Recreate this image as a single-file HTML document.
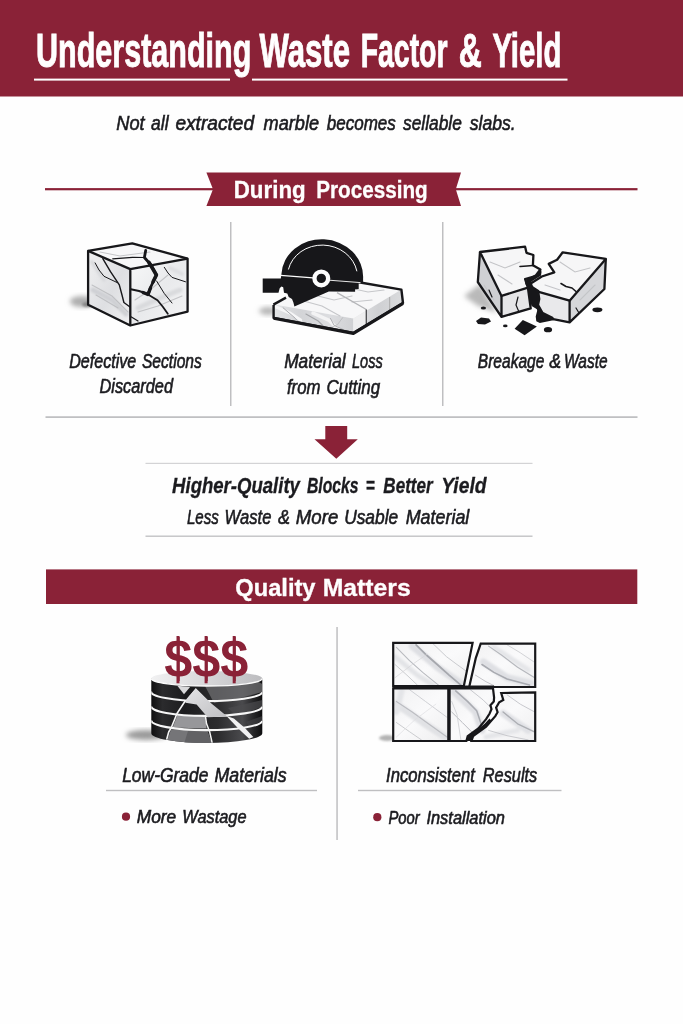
<!DOCTYPE html>
<html>
<head>
<meta charset="utf-8">
<title>Understanding Waste Factor &amp; Yield</title>
<style>
html,body{margin:0;padding:0;background:#fefefe;}
body{width:683px;height:1024px;overflow:hidden;position:relative;font-family:"Liberation Sans",sans-serif;}
svg{position:absolute;left:0;top:0;display:block;}
text{font-family:"Liberation Sans",sans-serif;}
.b{font-weight:bold;}
.i{font-style:italic;}
.k{fill:#1b1b1f;}
.w{fill:#ffffff;}
</style>
</head>
<body>
<svg width="683" height="1024" viewBox="0 0 683 1024">
<defs>
  <linearGradient id="mb1" x1="0" y1="0" x2="1" y2="1">
    <stop offset="0" stop-color="#f8f8f9"/>
    <stop offset="0.5" stop-color="#e9eaec"/>
    <stop offset="1" stop-color="#f4f4f5"/>
  </linearGradient>
  <linearGradient id="mb2" x1="0" y1="0" x2="1" y2="1">
    <stop offset="0" stop-color="#f1f1f2"/>
    <stop offset="0.55" stop-color="#dedfe2"/>
    <stop offset="1" stop-color="#f0f0f1"/>
  </linearGradient>
  <filter id="bl2" x="-30%" y="-30%" width="160%" height="160%"><feGaussianBlur stdDeviation="2.5"/></filter>
  <filter id="bl05" x="-30%" y="-30%" width="160%" height="160%"><feGaussianBlur stdDeviation="0.5"/></filter>
  <filter id="bl1" x="-30%" y="-30%" width="160%" height="160%"><feGaussianBlur stdDeviation="1.2"/></filter>
</defs>

<!-- background -->
<rect x="0" y="0" width="683" height="1024" fill="#fefefe"/>

<!-- HEADER -->
<g id="header">
  <rect x="0" y="0" width="683" height="96.5" fill="#8a2237"/>
  <rect x="34" y="78.6" width="196" height="2" fill="#fff"/>
  <rect x="252" y="78.6" width="315.5" height="2" fill="#fff"/>
</g>

<!-- SUBTITLE -->

<!-- RIBBON -->
<g id="ribbon">
  <rect x="45" y="188.1" width="170" height="2.2" fill="#8a2237"/>
  <rect x="450" y="188.1" width="187.5" height="2.2" fill="#8a2237"/>
  <path d="M206.4 172.5 H461 L455.8 189.2 L461 205.9 H206.4 L213 189.2 Z" fill="#8a2237"/>
</g>

<!-- SECTION 1 grid lines -->
<g id="grid1" fill="#bfbfc1">
  <rect x="230" y="222" width="1.5" height="184"/>
  <rect x="442" y="222" width="1.5" height="184"/>
  <rect x="45.5" y="416.3" width="592" height="1.6" fill="#b9babc"/>
  <rect x="145.5" y="462.8" width="387" height="1.1" fill="#cfcfd1"/>
  <rect x="145.5" y="535.5" width="387" height="1.4" fill="#c2c3c5"/>
</g>

<!-- ICONS section 1 placeholder -->
<g id="icon-cube">
  <ellipse cx="82" cy="301.5" rx="12" ry="5.5" fill="#adadad" filter="url(#bl2)"/>
  <ellipse cx="88" cy="304.5" rx="6" ry="2.5" fill="#858585" filter="url(#bl1)"/>
  <!-- faces -->
  <path d="M88.1 250.9 L132.3 243.4 L187.6 258.6 L130.3 269.1 Z" fill="#f7f7f8"/>
  <path d="M88.1 250.9 L130.3 269.1 L130.3 325.5 L88.1 304.7 Z" fill="url(#mb2)"/>
  <path d="M130.3 269.1 L187.6 258.6 L187.6 311.6 L130.3 325.5 Z" fill="url(#mb1)"/>
  <g fill="none" stroke-linecap="round" filter="url(#bl1)">
    <path d="M93 290 L112 300 L126 314" stroke="#cfd0d4" stroke-width="5"/>
    <path d="M92 262 L104 280" stroke="#d9dadd" stroke-width="4"/>
    <path d="M138 308 L160 298 L180 290" stroke="#d9dadd" stroke-width="5"/>
    <path d="M170 268 L182 274" stroke="#dddee1" stroke-width="4"/>
  </g>
  <!-- veins -->
  <g fill="none" stroke="#b9babd" stroke-width="1.1" stroke-linecap="round" opacity=".8" filter="url(#bl05)">
    <path d="M92 285 L112 296 L128 312"/>
    <path d="M96 295 L118 308"/>
    <path d="M135 300 L150 290 L168 275"/>
    <path d="M138 312 L158 306 L182 296"/>
    <path d="M100 252 L120 256 L150 252"/>
  </g>
  <!-- cracks -->
  <g fill="none" stroke="#17171a" stroke-linecap="round" stroke-linejoin="round">
    <path d="M145.7 250.5 L144.4 257.5 L151 265 L156.4 275 L150.5 287.5 L148 294.5" stroke-width="2.8"/>
    <path d="M149 262.5 L153.5 270 L156.4 275 L153 282" stroke-width="3.6"/>
    <path d="M150.5 288 L148 294.5 L143 292.5" stroke-width="3.4"/>
    <path d="M148 294 L139 291 L130.8 289.3" stroke-width="2"/>
    <path d="M148 294.5 L157.5 300.3 L163 307 L167.8 313.8" stroke-width="1.8"/>
    <path d="M156.6 281 L164.3 293.5 L172 303" stroke-width="1"/>
    <path d="M102.8 258.6 L110.5 271.7 L119.3 284.9 L122 295 L123.9 302.5 L130 307" stroke-width="1.4"/>
    <path d="M95.1 262.9 L99 270 L104 276.3 L117 282.5" stroke-width="1"/>
    <path d="M164.3 267.3 L168 273 L172 277.4 L185.5 281.8" stroke-width="1"/>
    <path d="M112.7 258.8 L132.5 257.3 L144.5 257.5" stroke-width="1.2"/>
    <path d="M131 316.8 L138 321" stroke-width="1.2"/>
  </g>
  <!-- outline -->
  <g fill="none" stroke="#17171a" stroke-width="2.3" stroke-linejoin="round">
    <path d="M88.1 250.9 L132.3 243.4 L187.6 258.6 L187.6 311.6 L130.3 325.5 L88.1 304.7 Z"/>
    <path d="M88.1 250.9 L130.3 269.1 L187.6 258.6 M130.3 269.1 V325.5"/>
  </g>
</g>
<g id="icon-saw">
  <defs>
    <linearGradient id="sf" x1="0" y1="0" x2="1" y2="0">
      <stop offset="0" stop-color="#e3e4e6"/><stop offset=".35" stop-color="#d3d4d7"/><stop offset=".7" stop-color="#dcdde0"/><stop offset="1" stop-color="#cfd0d3"/>
    </linearGradient>
    <linearGradient id="sr" x1="0" y1="0" x2="1" y2="0">
      <stop offset="0" stop-color="#e4e4e6"/><stop offset=".5" stop-color="#cfd0d3"/><stop offset="1" stop-color="#dadbdd"/>
    </linearGradient>
    <clipPath id="sfc"><path d="M273.4 304.3 L353.4 318.6 L353.4 333 L272.8 318.2 Z"/></clipPath>
  </defs>
  <!-- shadow -->
  <ellipse cx="268" cy="311" rx="9" ry="4" fill="#b5b5b5" filter="url(#bl2)"/>
  <!-- slab -->
  <path d="M273.4 304.3 L321.6 275.8 L401.4 289.6 L353.4 318.6 Z" fill="#f7f7f8"/>
  <path d="M273.4 304.3 L353.4 318.6 L353.4 333 L272.8 318.2 Z" fill="url(#sf)"/>
  <g clip-path="url(#sfc)" fill="none" stroke-linecap="round" filter="url(#bl05)">
    <path d="M276.1 307.0 L290.1 313.1 L300.7 320.1" stroke="#f6f6f7" stroke-width="3"/>
    <path d="M313.0 313.1 L328.8 320.1 L337.6 328.9" stroke="#f3f3f4" stroke-width="3.5"/>
    <path d="M283.1 307.8 L295.4 318.4 L298.9 322.8" stroke="#a9aaae" stroke-width="1"/>
    <path d="M305.9 314.0 L318.2 321.0 L325.3 328.0" stroke="#a4a5a9" stroke-width="1.1"/>
    <path d="M330.5 318.4 L334.1 325.4 L346.4 331.0" stroke="#b0b1b5" stroke-width="1"/>
    <path d="M342.8 317.5 L337.6 324.5 L332.3 327.2" stroke="#b6b7ba" stroke-width="0.8"/>
  </g>
  <path d="M353.4 318.6 L401.4 289.6 L403 303 L353.4 333 Z" fill="url(#sr)"/>
  <path d="M353.4 318.6 L366.3 310.8 V325 L353.4 333 Z" fill="#eeeeef"/>
  <!-- veins -->
  <g fill="none" stroke="#c6c7ca" stroke-width="1.2" stroke-linecap="round" filter="url(#bl05)">
    <path d="M300 300 L322 306 L340 316"/>
    <path d="M318 296 L334 300 L352 296"/>
    <path d="M345 287 L368 292 L384 290"/>
    <path d="M352 302 L372 300"/>
  </g>
  <!-- kerf -->
  <path d="M337 292.6 L366.3 309.5" fill="none" stroke="#b3b4b7" stroke-width="1.3"/>
  <path d="M366.3 309.5 V324.8" fill="none" stroke="#4a4a4d" stroke-width="1.3"/>
  <path d="M389.7 297 V310.5" fill="none" stroke="#aaa" stroke-width="1"/>
  <!-- outline -->
  <path d="M273.6 305.1 V317.9 L353.4 333 L403 303 L401.4 289.6 L356 281.8" fill="none" stroke="#17171a" stroke-width="2.4" stroke-linejoin="round"/>
  <path d="M273.4 304.6 L286 297.6" fill="none" stroke="#17171a" stroke-width="2.4"/>
  <path d="M273.6 318.2 L353.4 333.4 L403 303.4" fill="none" stroke="#17171a" stroke-width="3.2" stroke-linejoin="round"/>
  <!-- saw -->
  <path d="M262.7 278.4 L280.8 278.4 L281.4 274.3 A40.85 37 3 0 1 363.1 278.3 L363.1 282 L358.7 282.4 L358.7 288.9 L355.1 289.2 L355.1 291.8 L328.8 291.5 L294.4 306.4 L293.4 302.4 L292 298.9 L288.7 297.1 L287.3 293.6 L284 292.7 L283.2 287.2 L281.4 286.6 L279.7 288.2 L278.5 292.7 L262.7 292.7 Z" fill="#17171a"/>
  <path d="M280.6 275.4 L313 277.9" stroke="#fdfdfd" stroke-width="1.1" fill="none"/>
  <path d="M329 280.2 L360.5 282.6" stroke="#fdfdfd" stroke-width="0.9" fill="none"/>
  <path d="M288.4 269.5 A35 31.8 3 0 1 356.9 271.3" stroke="#fdfdfd" stroke-width="1" fill="none"/>
  <circle cx="321.3" cy="278.4" r="6.85" fill="none" stroke="#fdfdfd" stroke-width="4.3"/>
</g>
<g id="icon-broken">
  <path d="M464 296 L480 284 L497 313 L478 306 Z" fill="#b9b9b9" filter="url(#bl2)"/>
  <!-- crack void -->
  <!-- left piece -->
  <path d="M480 252 L525.1 246.7 L526.5 252.8 L533.4 255 L532.9 265.3 L540.4 269.5 L539 275.1 L525.1 279.2 L527.9 287.6 L501.5 295.9 Z" fill="#f6f6f7"/>
  <path d="M480 252 L477.8 282 L501.5 316.8 L501.5 295.9 Z" fill="#cfd0d3"/>
  <path d="M501.5 295.9 L501.5 316.8 L530.7 308.4 L527.9 287.6 Z" fill="#e6e6e8"/>
  <!-- right piece -->
  <path d="M562.7 252.3 L605.8 258.9 L569.6 300.7 L533.4 290.4 L530.7 283.4 L541.8 276.5 L554.3 272.3 L548.7 263.9 L557.1 259.8 Z" fill="#f6f6f7"/>
  <path d="M533.4 290.4 L569.6 300.7 L569.6 322.4 L541.8 316.8 L536 305 Z" fill="#e9e9eb"/>
  <path d="M569.6 300.7 L605.8 258.9 L604.4 289 L569.6 322.4 Z" fill="#d6d7da"/>
  <!-- veins -->
  <g fill="none" stroke="#c4c5c8" stroke-width="1.1" stroke-linecap="round" filter="url(#bl05)">
    <path d="M490 262 L505 268 L520 262"/>
    <path d="M498 275 L512 284"/>
    <path d="M560 262 L575 272 L590 268"/>
    <path d="M545 285 L560 290"/>
    <path d="M484 285 L494 300"/>
    <path d="M580 300 L595 285"/>
  </g>
  <!-- small cracks -->
  <g fill="none" stroke="#17171a" stroke-linecap="round" stroke-linejoin="round" stroke-width="1.2">
    <path d="M520 266.5 L527 266 L533 265.5" stroke-width="1.6"/>
    <path d="M561 283.5 L566 286.5 L572 288 L576 291.5" stroke-width="1.6"/>
    <path d="M518 297 L516 305 L519 312"/>
    <path d="M489 290 L492 297"/>
    <path d="M576 308 L579 313"/>
  </g>
  <!-- outlines -->
  <g fill="none" stroke="#17171a" stroke-width="2.3" stroke-linejoin="round">
    <path d="M480 252 L525.1 246.7 L526.5 252.8 L533.4 255 L532.9 265.3 L540.4 269.5 L539 275.1 L525.1 279.2 L527.9 287.6 L501.5 295.9 Z"/>
    <path d="M480 252 L477.8 282 L501.5 316.8 L530.7 308.4 L527.9 287.6 M501.5 295.9 V316.8"/>
    <path d="M562.7 252.3 L605.8 258.9 L569.6 300.7 L533.4 290.4 L530.7 283.4 L541.8 276.5 L554.3 272.3 L548.7 263.9 L557.1 259.8 Z"/>
    <path d="M605.8 258.9 L604.4 289 L569.6 322.4 L541.8 316.8 L536 305 L533.4 290.4 M569.6 300.7 V322.4"/>
  </g>
  <path d="M538.7 269.7 L541.6 271.4 L541 275.5 L531.6 281.4 L531 284.9 L539.2 290.2 L540.4 299 L539.2 304.8 L543.3 311.9 L553.3 317.1 L554.5 320.1 L539.8 323 L536.3 321.2 L535.7 316.5 L537.5 309.5 L531.6 306 L529.3 299 L528.1 288.4 L525.2 283.7 L526.4 279.6 L535.1 274.4 Z" fill="#17171a"/>
  <!-- debris -->
  <g fill="#17171a">
    <path d="M476 321 L481 317.5 L489 318.5 L491 321.5 L485 324.5 L478 324 Z"/>
    <path d="M514.6 328.8 L522.8 320 L536.9 326.5 L524.6 335.3 Z"/>
    <ellipse cx="548" cy="329.7" rx="4.1" ry="2.6"/>
    <ellipse cx="597.4" cy="309.8" rx="5" ry="2.4"/>
    <ellipse cx="483.4" cy="307.9" rx="2.6" ry="1.5"/>
    <ellipse cx="505.3" cy="325.9" rx="2.3" ry="1.4"/>
  </g>
</g>

<!-- labels section 1 -->


<!-- ARROW -->
<path d="M325.3 426 H347.2 V439.3 H357.8 L336.3 458.7 L314.5 439.3 H325.3 Z" fill="#8a2237"/>

<!-- middle text -->

<!-- QUALITY BAR -->
<g id="qbar">
  <rect x="46" y="569.4" width="591.3" height="34.6" fill="#8a2237"/>
</g>

<!-- SECTION 2 lines -->
<g id="grid2" fill="#bfbfc1">
  <rect x="336.3" y="627" width="1.5" height="213"/>
  <rect x="106" y="789.8" width="211" height="1.4"/>
  <rect x="358" y="789.8" width="203.5" height="1.4"/>
</g>

<!-- ICONS section 2 placeholder -->
<g id="icon-coins">
  <defs>
    <clipPath id="cyl"><path d="M151.3 678.5 V733.2 A55.5 9.7 0 0 0 262.3 733.2 V678.5 Z"/></clipPath>
    <linearGradient id="cg" x1="0" y1="0" x2="1" y2="0">
      <stop offset="0" stop-color="#0e0e0f"/>
      <stop offset="0.1" stop-color="#2b2b2d"/>
      <stop offset="0.3" stop-color="#1d1d1f"/>
      <stop offset="0.6" stop-color="#2c2c2e"/>
      <stop offset="0.82" stop-color="#4a4a4d"/>
      <stop offset="0.93" stop-color="#232325"/>
      <stop offset="1" stop-color="#0d0d0e"/>
    </linearGradient>
    <linearGradient id="tg" x1="0" y1="0" x2="1" y2="0">
      <stop offset="0" stop-color="#f1f1f2"/>
      <stop offset="0.45" stop-color="#dadadc"/>
      <stop offset="1" stop-color="#bcbcbf"/>
    </linearGradient>
    <linearGradient id="fr" x1="0" y1="0" x2="1" y2="1">
      <stop offset="0" stop-color="#e4e4e6"/>
      <stop offset="1" stop-color="#bfbfc2"/>
    </linearGradient>
  </defs>
  <!-- shadow -->
  <ellipse cx="146" cy="735" rx="20" ry="5" fill="#9a9a9a" filter="url(#bl2)"/>
  <!-- body -->
  <path d="M151.3 678.5 V733.2 A55.5 9.7 0 0 0 262.3 733.2 V678.5 Z" fill="url(#cg)"/>
  <g clip-path="url(#cyl)">
    <!-- highlight regions right of crack -->
    <path d="M205 686 L255 680 L262.3 684 V692 L240 698 L214 703 Z" fill="#6a6a6d" opacity=".8"/>
    <path d="M228 708 L262.3 700 V707 L236 716 Z" fill="#4b4b4e" opacity=".7"/>
    <path d="M246 722 L262.3 716 V721 L250 727 Z" fill="#454548" opacity=".6"/>
    <!-- left fractured layers -->
    <path d="M177.5 715 L205.4 716.4 L206.6 728.5 L172.5 727.5 Z" fill="#97979a"/>
    <path d="M171 729.5 L207 730 L212 744 L166 744 Z" fill="#757578"/>
    <path d="M188 731 L207 730.5 L212 744 L184 744 Z" fill="#616164"/>
    <!-- separators -->
    <g fill="none" stroke="#f6f6f6" stroke-width="2.1">
      <path d="M151.3 691.4 A55.5 9.2 0 0 0 262.3 692.4"/>
      <path d="M151.3 706.2 A55.5 9.4 0 0 0 262.3 706.8"/>
      <path d="M151.3 720.3 A55.5 9.6 0 0 0 262.3 720.8"/>
    </g>
    <!-- black over separator 1 between left crack and roof is not needed -->
    <!-- roof + wide band -->
    <path d="M195.7 688.1 L211.1 703.2 L227.3 716.4 L207.6 717.2 L196.6 704.4 L185.5 702.8 L185.5 699.6 Z" fill="url(#fr)"/>
    <path d="M226.5 716 L233.9 718.4 L244.9 728 L253.3 736.9 L249.2 738.8 L238.3 728.6 Z" fill="#f1f1f2"/>
    <!-- thin cracks -->
    <g fill="none" stroke="#f4f4f4" stroke-linecap="round" stroke-linejoin="round">
      <path d="M185.5 700.5 L177 713.5 L174.6 719.5 L171.4 727.3 L168.7 732 L166.8 739" stroke-width="1.6"/>
      <path d="M205.4 715.9 L206.5 723.5 L209.8 732.3 L212 742.2" stroke-width="1.5"/>
    </g>
  </g>
  <!-- top face -->
  <ellipse cx="206.8" cy="678.5" rx="55.5" ry="7.6" fill="url(#tg)"/>
  <path d="M151.3 678.5 A55.5 7.6 0 0 0 262.3 678.5" fill="none" stroke="#fbfbfb" stroke-width="1.5"/>
  <path d="M190.1 687.1 L195.7 687.7 L186.0 699.4 L183.4 698.8 L184.3 694.5 Z" fill="#1a1a1c"/>
  <path d="M177.3 685.8 L184.0 694.3 L190.1 687.1 Z" fill="#d9d9db"/>
  <!-- dollars -->
  <text class="b" x="164.3" y="676.6" font-size="54.5" textLength="84" lengthAdjust="spacingAndGlyphs" fill="#8a2237">$$$</text>
  <g fill="#8a2237"><rect x="176.5" y="636" width="3" height="47.3"/><rect x="204.6" y="636" width="3" height="47.3"/><rect x="232.7" y="636" width="3" height="47.3"/></g>
</g>
<g id="icon-tiles">
  <defs>
    <clipPath id="tilesclip"><path d="M393.2 642.9 L472.6 642.9 L463.8 686.2 L393.2 686.2 Z M480.7 643.6 L535.2 643.6 L535.2 687 L469.2 687 L475.7 658.4 Z M393.2 688.3 H448.3 V741 H393.2 Z M449.6 688.3 L493 688.3 L494.1 697.6 L493.8 701.5 L490.4 705.3 L491.5 709.2 L489.5 713.8 L486.1 719.2 L478.4 728.4 L467.7 736.1 L466.4 741 L449.6 741 Z M501.2 693 L535.2 692.3 L535.2 741 L471.5 741 L473.1 736.1 L486.1 726.8 L495.3 716.1 L497.6 712.2 L496.1 707.6 L499.2 702.3 L503.3 699.9 Z"/></clipPath>
    <linearGradient id="tl1" x1="0" y1="0" x2="1" y2="1">
      <stop offset="0" stop-color="#f1f1f2"/><stop offset=".5" stop-color="#fafafb"/><stop offset="1" stop-color="#eeeeef"/>
    </linearGradient>
  </defs>
  <ellipse cx="387" cy="738" rx="8" ry="3" fill="#b4b4b4" filter="url(#bl1)"/>
  <g fill="url(#tl1)">
    <path d="M393.2 642.9 L472.6 642.9 L463.8 686.2 L393.2 686.2 Z"/>
    <path d="M480.7 643.6 L535.2 643.6 L535.2 687 L469.2 687 L475.7 658.4 Z"/>
    <path d="M393.2 688.3 H448.3 V741 H393.2 Z"/>
    <path d="M449.6 688.3 L493 688.3 L494.1 697.6 L493.8 701.5 L490.4 705.3 L491.5 709.2 L489.5 713.8 L486.1 719.2 L478.4 728.4 L467.7 736.1 L466.4 741 L449.6 741 Z"/>
    <path d="M501.2 693 L535.2 692.3 L535.2 741 L471.5 741 L473.1 736.1 L486.1 726.8 L495.3 716.1 L497.6 712.2 L496.1 707.6 L499.2 702.3 L503.3 699.9 Z"/>
  </g>
  <!-- clouds -->
  <g fill="none" stroke-linecap="round" stroke-linejoin="round" filter="url(#bl1)" clip-path="url(#tilesclip)">
    <path d="M412.2 646.1 L437.2 667.2 L462.3 684.3" stroke-width="7" stroke="#dedfe3"/>
    <path d="M395.0 656.6 L417.4 675.1 L433.3 685.1" stroke-width="5" stroke="#e3e4e7"/>
    <path d="M483.3 661.9 L507.1 677.7 L530.8 683.5" stroke-width="7" stroke="#dfe0e4"/>
    <path d="M493.9 647.4 L528.1 669.8" stroke-width="5" stroke="#e5e6e9"/>
    <path d="M396.4 704.1 L422.7 722.5 L445.1 737.0" stroke-width="7" stroke="#e1e2e5"/>
    <path d="M401.6 690.9 L396.4 712.0" stroke-width="6" stroke="#e4e5e8"/>
    <path d="M454.3 692.2 L475.4 712.0 L482.0 730.4" stroke-width="7" stroke="#dedfe3"/>
    <path d="M503.1 713.3 L528.1 730.4" stroke-width="7" stroke="#e0e1e5"/>
    <path d="M486.0 737.0 L517.6 730.4" stroke-width="5" stroke="#e5e6e9"/>
  </g>
  <!-- veins -->
  <g fill="none" stroke-linecap="round" stroke-linejoin="round" filter="url(#bl05)" clip-path="url(#tilesclip)">
    <path d="M416.1 644.8 L426.7 655.3 L437.2 664.5 L449.1 675.1 L460.9 685.1" stroke-width="1.8" stroke="#a6a8ae"/>
    <path d="M396.4 647.4 L409.5 660.6 L422.7 672.4 L439.1 685.6" stroke-width="1.1" stroke="#b9bbc0"/>
    <path d="M433.3 644.0 L446.4 656.6 L457.0 664.5 L468.0 672.4" stroke-width="0.9" stroke="#c4c5ca"/>
    <path d="M395.0 664.5 L406.9 675.1 L417.4 685.1" stroke-width="0.9" stroke="#c6c7cb"/>
    <path d="M395.0 677.7 L412.2 664.5 L426.7 654.5" stroke-width="0.7" stroke="#d5d6d9"/>
    <path d="M482.0 664.5 L493.9 672.4 L507.1 679.0 L529.5 685.1" stroke-width="1.6" stroke="#a9abb1"/>
    <path d="M488.6 646.1 L501.8 655.3 L517.6 667.2 L534.7 677.7" stroke-width="1.1" stroke="#b6b8bd"/>
    <path d="M507.1 644.8 L520.2 652.7 L533.9 661.9" stroke-width="0.8" stroke="#c8c9cd"/>
    <path d="M475.4 675.1 L486.0 681.7 L493.9 685.6" stroke-width="0.9" stroke="#bfc0c5"/>
    <path d="M396.4 701.4 L412.2 712.0 L426.7 722.5 L447.0 737.0" stroke-width="1.2" stroke="#bcbdc2"/>
    <path d="M409.5 689.6 L425.4 701.4 L447.0 717.3" stroke-width="0.9" stroke="#cbccd0"/>
    <path d="M396.4 722.5 L409.5 731.7 L421.4 739.9" stroke-width="0.9" stroke="#c6c7cb"/>
    <path d="M396.4 737.0 L414.8 719.9 L435.9 704.1" stroke-width="0.6" stroke="#dadadd"/>
    <path d="M455.7 690.9 L467.5 701.4 L476.7 710.7 L482.8 729.1" stroke-width="1.5" stroke="#a9abb1"/>
    <path d="M451.7 712.0 L462.3 722.5 L471.5 731.7" stroke-width="1.0" stroke="#b9bbc0"/>
    <path d="M470.2 689.6 L483.3 700.1 L489.9 706.7" stroke-width="0.9" stroke="#c2c3c8"/>
    <path d="M451.7 701.4 L457.0 714.6 L460.9 739.9" stroke-width="0.8" stroke="#cccdd1"/>
    <path d="M503.1 712.0 L517.6 723.8 L533.9 731.7" stroke-width="1.4" stroke="#adafb4"/>
    <path d="M488.6 730.4 L507.1 735.7 L528.1 739.9" stroke-width="0.9" stroke="#c4c5ca"/>
    <path d="M507.1 694.8 L520.2 704.1 L534.7 712.0" stroke-width="0.9" stroke="#c2c3c8"/>
  </g>
  <!-- outlines -->
  <g fill="none" stroke="#17171a" stroke-width="2.2" stroke-linejoin="miter">
    <path d="M393.2 642.9 L472.6 642.9 L463.8 686.2 L393.2 686.2 Z"/>
    <path d="M480.7 643.6 L535.2 643.6 L535.2 687 L469.2 687 L475.7 658.4 Z"/>
    <path d="M393.2 688.3 H448.3 V741 H393.2 Z"/>
    <path d="M449.6 688.3 L493 688.3 L494.1 697.6 L493.8 701.5 L490.4 705.3 L491.5 709.2 L489.5 713.8 L486.1 719.2 L478.4 728.4 L467.7 736.1 L466.4 741 L449.6 741 Z"/>
    <path d="M501.2 693 L535.2 692.3 L535.2 741 L471.5 741 L473.1 736.1 L486.1 726.8 L495.3 716.1 L497.6 712.2 L496.1 707.6 L499.2 702.3 L503.3 699.9 Z"/>
  </g>
  <path d="M393.2 687.2 H494" stroke="#17171a" stroke-width="3.4" fill="none"/>
  <path d="M465.8 741.0 L472.0 741.0 L473.2 736.4 L479.2 731.5 L486.1 726.5 L491.5 720.7 L489.5 718.4 L484.6 723.8 L477.7 729.2 L468.4 735.8 Z" fill="#17171a"/>
</g>

<!-- labels section 2 -->

<circle cx="126" cy="816.7" r="4.1" fill="#8a2237"/>
<circle cx="377.3" cy="817.2" r="4.1" fill="#8a2237"/>
<g id="texts" opacity="0.999">
<!--TEXT-START-->
<text transform="translate(35.99 67.3) scale(0.6361 1)" font-size="48" fill="#ffffff" font-weight="bold" stroke="#ffffff" stroke-width="0.8" vector-effect="non-scaling-stroke">Understanding</text>
<text transform="translate(259.40 67.3) scale(0.6493 1)" font-size="48" fill="#ffffff" font-weight="bold" stroke="#ffffff" stroke-width="0.8" vector-effect="non-scaling-stroke">Waste</text>
<text transform="translate(360.68 67.3) scale(0.5919 1)" font-size="48" fill="#ffffff" font-weight="bold" stroke="#ffffff" stroke-width="0.8" vector-effect="non-scaling-stroke">Factor</text>
<text transform="translate(458.77 67.3) scale(0.6656 1)" font-size="48" fill="#ffffff" font-weight="bold" stroke="#ffffff" stroke-width="0.8" vector-effect="non-scaling-stroke">&amp;</text>
<text transform="translate(492.39 67.3) scale(0.6106 1)" font-size="48" fill="#ffffff" font-weight="bold" stroke="#ffffff" stroke-width="0.8" vector-effect="non-scaling-stroke">Yield</text>
<text transform="translate(116.35 130.2) scale(0.8672 1)" font-size="21" fill="#1b1b1f" font-style="italic" stroke="#1b1b1f" stroke-width="0.6">Not</text>
<text transform="translate(151.08 130.2) scale(0.8333 1)" font-size="21" fill="#1b1b1f" font-style="italic" stroke="#1b1b1f" stroke-width="0.6">all</text>
<text transform="translate(175.42 130.2) scale(0.9116 1)" font-size="21" fill="#1b1b1f" font-style="italic" stroke="#1b1b1f" stroke-width="0.6">extracted</text>
<text transform="translate(263.58 130.2) scale(0.8648 1)" font-size="21" fill="#1b1b1f" font-style="italic" stroke="#1b1b1f" stroke-width="0.6">marble</text>
<text transform="translate(326.70 130.2) scale(0.8118 1)" font-size="21" fill="#1b1b1f" font-style="italic" stroke="#1b1b1f" stroke-width="0.6">becomes</text>
<text transform="translate(402.99 130.2) scale(0.8270 1)" font-size="21" fill="#1b1b1f" font-style="italic" stroke="#1b1b1f" stroke-width="0.6">sellable</text>
<text transform="translate(469.69 130.2) scale(0.8404 1)" font-size="21" fill="#1b1b1f" font-style="italic" stroke="#1b1b1f" stroke-width="0.6">slabs.</text>
<text transform="translate(233.74 198.4) scale(0.9718 1)" font-size="23" fill="#ffffff" font-weight="bold" stroke="#ffffff" stroke-width="0.3" vector-effect="non-scaling-stroke">During</text>
<text transform="translate(316.25 198.4) scale(0.8992 1)" font-size="23" fill="#ffffff" font-weight="bold" stroke="#ffffff" stroke-width="0.3" vector-effect="non-scaling-stroke">Processing</text>
<text transform="translate(69.19 368.2) scale(0.8136 1)" font-size="19.8" fill="#1b1b1f" font-style="italic" stroke="#1b1b1f" stroke-width="0.6">Defective</text>
<text transform="translate(141.90 368.2) scale(0.7907 1)" font-size="19.8" fill="#1b1b1f" font-style="italic" stroke="#1b1b1f" stroke-width="0.6">Sections</text>
<text transform="translate(99.48 393.3) scale(0.8259 1)" font-size="19.8" fill="#1b1b1f" font-style="italic" stroke="#1b1b1f" stroke-width="0.6">Discarded</text>
<text transform="translate(284.14 368.4) scale(0.8743 1)" font-size="19.8" fill="#1b1b1f" font-style="italic" stroke="#1b1b1f" stroke-width="0.6">Material</text>
<text transform="translate(351.95 368.4) scale(0.7358 1)" font-size="19.8" fill="#1b1b1f" font-style="italic" stroke="#1b1b1f" stroke-width="0.6">Loss</text>
<text transform="translate(286.96 393.5) scale(0.8477 1)" font-size="19.8" fill="#1b1b1f" font-style="italic" stroke="#1b1b1f" stroke-width="0.6">from</text>
<text transform="translate(326.54 393.5) scale(0.8553 1)" font-size="19.8" fill="#1b1b1f" font-style="italic" stroke="#1b1b1f" stroke-width="0.6">Cutting</text>
<text transform="translate(477.81 368.4) scale(0.7856 1)" font-size="19.8" fill="#1b1b1f" font-style="italic" stroke="#1b1b1f" stroke-width="0.6">Breakage</text>
<text transform="translate(549.37 368.4) scale(0.9021 1)" font-size="19.8" fill="#1b1b1f" font-style="italic" stroke="#1b1b1f" stroke-width="0.6">&amp;</text>
<text transform="translate(564.03 368.4) scale(0.7831 1)" font-size="19.8" fill="#1b1b1f" font-style="italic" stroke="#1b1b1f" stroke-width="0.6">Waste</text>
<text transform="translate(172.09 492.9) scale(0.8251 1)" font-size="22.5" fill="#1b1b1f" font-weight="bold" font-style="italic" stroke="#1b1b1f" stroke-width="0.3" vector-effect="non-scaling-stroke">Higher-Quality</text>
<text transform="translate(306.95 492.9) scale(0.6993 1)" font-size="22.5" fill="#1b1b1f" font-weight="bold" font-style="italic" stroke="#1b1b1f" stroke-width="0.3" vector-effect="non-scaling-stroke">Blocks</text>
<text transform="translate(365.84 492.9) scale(0.6870 1)" font-size="22.5" fill="#1b1b1f" font-weight="bold" font-style="italic" stroke="#1b1b1f" stroke-width="0.3" vector-effect="non-scaling-stroke">=</text>
<text transform="translate(383.32 492.9) scale(0.7603 1)" font-size="22.5" fill="#1b1b1f" font-weight="bold" font-style="italic" stroke="#1b1b1f" stroke-width="0.3" vector-effect="non-scaling-stroke">Better</text>
<text transform="translate(441.19 492.9) scale(0.8566 1)" font-size="22.5" fill="#1b1b1f" font-weight="bold" font-style="italic" stroke="#1b1b1f" stroke-width="0.3" vector-effect="non-scaling-stroke">Yield</text>
<text transform="translate(186.95 523.5) scale(0.7337 1)" font-size="20.6" fill="#1b1b1f" font-style="italic" stroke="#1b1b1f" stroke-width="0.6">Less</text>
<text transform="translate(224.59 523.5) scale(0.8072 1)" font-size="20.6" fill="#1b1b1f" font-style="italic" stroke="#1b1b1f" stroke-width="0.6">Waste</text>
<text transform="translate(277.98 523.5) scale(0.8735 1)" font-size="20.6" fill="#1b1b1f" font-style="italic" stroke="#1b1b1f" stroke-width="0.6">&amp;</text>
<text transform="translate(295.82 523.5) scale(0.9061 1)" font-size="20.6" fill="#1b1b1f" font-style="italic" stroke="#1b1b1f" stroke-width="0.6">More</text>
<text transform="translate(344.13 523.5) scale(0.8437 1)" font-size="20.6" fill="#1b1b1f" font-style="italic" stroke="#1b1b1f" stroke-width="0.6">Usable</text>
<text transform="translate(405.65 523.5) scale(0.8699 1)" font-size="20.6" fill="#1b1b1f" font-style="italic" stroke="#1b1b1f" stroke-width="0.6">Material</text>
<text transform="translate(235.23 596.1) scale(0.9676 1)" font-size="24.5" fill="#ffffff" font-weight="bold" stroke="#ffffff" stroke-width="0.3" vector-effect="non-scaling-stroke">Quality</text>
<text transform="translate(322.63 596.1) scale(1.0113 1)" font-size="24.5" fill="#ffffff" font-weight="bold" stroke="#ffffff" stroke-width="0.3" vector-effect="non-scaling-stroke">Matters</text>
<text transform="translate(122.14 781.9) scale(0.8773 1)" font-size="19.9" fill="#1b1b1f" font-style="italic" stroke="#1b1b1f" stroke-width="0.6">Low-Grade</text>
<text transform="translate(214.53 781.9) scale(0.8931 1)" font-size="19.9" fill="#1b1b1f" font-style="italic" stroke="#1b1b1f" stroke-width="0.6">Materials</text>
<text transform="translate(136.73 822.6) scale(0.9457 1)" font-size="18.3" fill="#1b1b1f" font-style="italic" stroke="#1b1b1f" stroke-width="0.6">More</text>
<text transform="translate(182.26 822.6) scale(0.8950 1)" font-size="18.3" fill="#1b1b1f" font-style="italic" stroke="#1b1b1f" stroke-width="0.6">Wastage</text>
<text transform="translate(386.07 782.4) scale(0.8358 1)" font-size="19.9" fill="#1b1b1f" font-style="italic" stroke="#1b1b1f" stroke-width="0.6">Inconsistent</text>
<text transform="translate(482.78 782.4) scale(0.8215 1)" font-size="19.9" fill="#1b1b1f" font-style="italic" stroke="#1b1b1f" stroke-width="0.6">Results</text>
<text transform="translate(388.40 823.5) scale(0.8077 1)" font-size="18.3" fill="#1b1b1f" font-style="italic" stroke="#1b1b1f" stroke-width="0.6">Poor</text>
<text transform="translate(426.43 823.5) scale(0.8980 1)" font-size="18.3" fill="#1b1b1f" font-style="italic" stroke="#1b1b1f" stroke-width="0.6">Installation</text>
<!--TEXT-END-->
</g>
</svg>
</body>
</html>
